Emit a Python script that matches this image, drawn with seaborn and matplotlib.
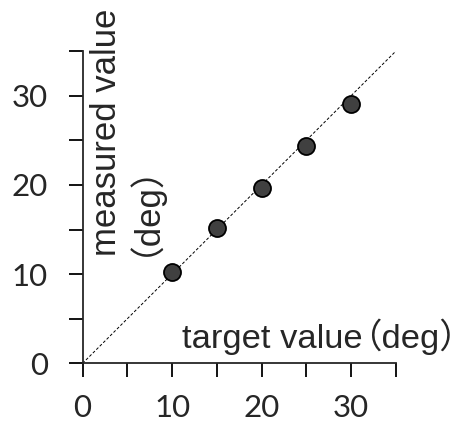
import matplotlib
matplotlib.use('Agg')
import matplotlib.pyplot as plt
import seaborn as sns
import pandas as pd
from matplotlib.ticker import MultipleLocator

target = [10, 15, 20, 25, 30]
measured = [10.2, 15.15, 19.65, 24.3, 29.05]
ticks = [0, 10, 20, 30]

df = pd.DataFrame({'target': target, 'measured': measured})

sns.set_style('ticks')
plt.rcParams['font.family'] = ['Lato', 'Noto Sans CJK JP', 'DejaVu Sans']
lab_font = ['Liberation Sans', 'Noto Sans CJK JP']

fig = plt.figure(figsize=(4.51, 4.25), dpi=100)
ax = fig.add_axes([0.183, 0.145, 0.695, 0.735])

# identity line
ax.axline((0, 0), slope=1, color='black', lw=0.7, ls=(0, (3, 2)), zorder=1)

sns.scatterplot(data=df, x='target', y='measured', ax=ax, s=150,
                color='#404040', edgecolor='black', linewidth=1.3, zorder=3)

ax.set_xlim(0, 35)
ax.set_ylim(0, 35)
ax.set_xticks(ticks)
ax.set_yticks(ticks)
ax.xaxis.set_minor_locator(MultipleLocator(5))
ax.yaxis.set_minor_locator(MultipleLocator(5))
ax.tick_params(which='both', length=10, width=1.3, color='black', direction='out')
ax.tick_params(axis='x', labelsize=22.5, pad=12)
ax.tick_params(axis='y', labelsize=22.5, pad=15)
for s in ['top', 'right']:
    ax.spines[s].set_visible(False)
for s in ['left', 'bottom']:
    ax.spines[s].set_linewidth(1.3)
ax.set_xlabel('')
ax.set_ylabel('')

# x label inside the axes, full-width brackets pulled closer
t1 = ax.text(0.317, 0.048, 'target value', transform=ax.transAxes, fontsize=24.8,
             ha='left', va='baseline', family=lab_font)
ax.annotate('（deg）', xy=(1, 0.048), xycoords=(t1, ax.transAxes),
            xytext=(-11, 0), textcoords='offset points', fontsize=24.8,
            ha='left', va='baseline', family=lab_font, annotation_clip=False)

# y label, two lines, inside the axes
ax.text(0.196, 0.343, 'measured value\n（deg）', transform=ax.transAxes, fontsize=25,
        rotation=90, ha='left', va='bottom', rotation_mode='anchor',
        multialignment='left', linespacing=0.47, family=lab_font)

fig.savefig('out.png', dpi=100)
